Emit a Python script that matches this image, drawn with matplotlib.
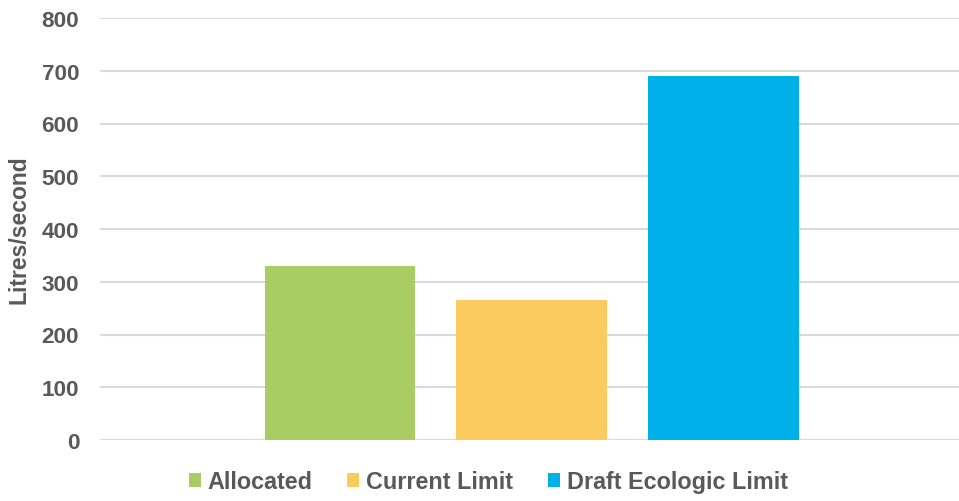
import numpy as np
import matplotlib
matplotlib.use("Agg")
from matplotlib import pyplot as plt

# data
series = ["Allocated", "Current Limit", "Draft Ecologic Limit"]
values = [330, 266, 690]
colors = ["#A9CD62", "#FBCB5F", "#00B0E9"]
yticks = [0, 100, 200, 300, 400, 500, 600, 700, 800]

plt.rcParams['font.family'] = ['Liberation Sans', 'DejaVu Sans']
grey = "#595959"

fig = plt.figure(figsize=(9.59, 5.02), dpi=100)
ax = fig.add_axes([100/959, 1 - 441/502, 859/959, 422/502])

x = np.arange(len(series))
bars = ax.bar(x, values, width=0.787, color=colors, label=series, zorder=2)

ax.set_ylim(0, 800)
ax.set_xlim(-1.253, 3.23)
ax.set_yticks(yticks)
ax.set_xticks([])
ax.grid(axis='y', color="#D9D9D9", linewidth=1.5, zorder=0)
for s in ax.spines.values():
  s.set_visible(False)
ax.tick_params(axis='y', length=0, pad=15, labelsize=16.2, labelcolor=grey)
for t in ax.get_yticklabels():
  t.set_fontweight('bold')

ax.set_ylabel("Litres/second", fontsize=16.5, fontweight='bold', color=grey)
ax.yaxis.set_label_coords(-0.081, 0.5)

leg = fig.legend(bars, series, loc='center', bbox_to_anchor=(0.509, 1 - 483/502), ncol=3,
                 frameon=False, handlelength=0.52, handleheight=0.52, handletextpad=0.28,
                 columnspacing=1.5, prop={'size': 16.8, 'weight': 'bold'})
for t in leg.get_texts():
  t.set_color(grey)

fig.savefig("out.png", dpi=100)
